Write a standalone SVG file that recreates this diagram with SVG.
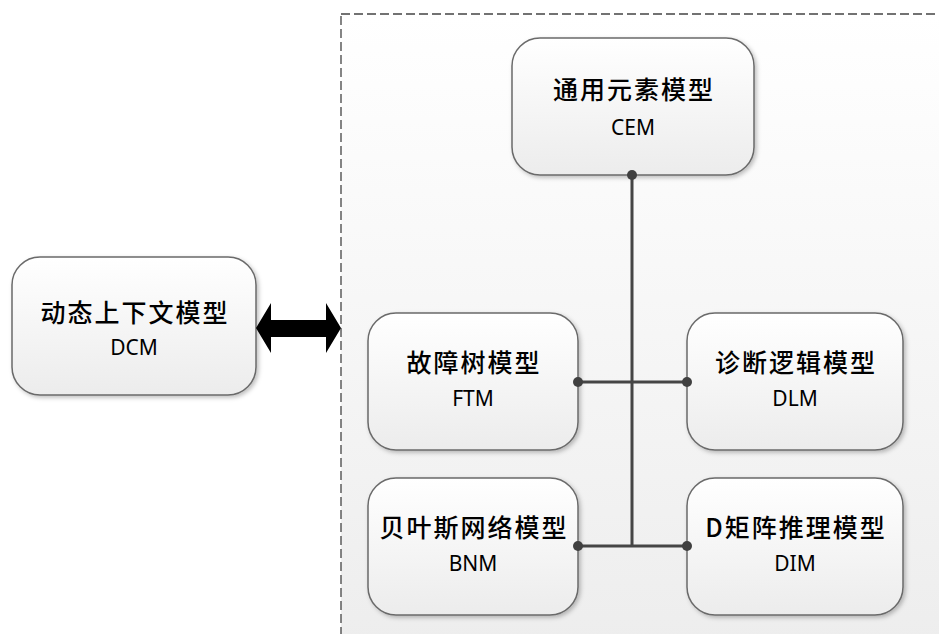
<svg xmlns="http://www.w3.org/2000/svg" width="939" height="634" viewBox="0 0 939 634">
<style>
.box{fill:url(#boxg);stroke:#6a6a6a;stroke-width:1.5;filter:url(#sh)}
.zh{font-family:"Noto Sans CJK SC","Noto Sans",sans-serif;font-size:25px;font-weight:500;fill:#000;text-anchor:middle;letter-spacing:2px}
.en{font-family:"Noto Sans","Liberation Sans",sans-serif;font-size:21px;fill:#000;text-anchor:middle}
.ln{stroke:#454545;stroke-width:3;fill:none}
.dot{fill:#404040}
</style>
<defs>
<linearGradient id="bg" x1="0" y1="0" x2="0" y2="1">
<stop offset="0" stop-color="#ffffff"/>
<stop offset="1" stop-color="#ededed"/>
</linearGradient>
<linearGradient id="boxg" x1="0" y1="0" x2="0" y2="1">
<stop offset="0" stop-color="#ffffff"/>
<stop offset="1" stop-color="#ececec"/>
</linearGradient>
<filter id="sh" x="-10%" y="-10%" width="125%" height="125%">
<feDropShadow dx="2" dy="2" stdDeviation="2" flood-color="#000" flood-opacity="0.25"/>
</filter>
</defs>
<rect x="0" y="0" width="939" height="634" fill="#ffffff"/>
<rect id="container" x="341" y="14" width="620" height="640" fill="url(#bg)" stroke="#444" stroke-width="1.3" stroke-dasharray="9,4"/>
<g id="DCM">
<rect class="box" x="12" y="257" width="244" height="138" rx="28"/>
<text class="zh" x="135" y="322">动态上下文模型</text>
<text class="en" x="134" y="355">DCM</text>
</g>
<g id="CEM">
<rect class="box" x="512" y="38" width="242" height="137" rx="28"/>
<text class="zh" x="634" y="99">通用元素模型</text>
<text class="en" x="633" y="135">CEM</text>
</g>
<g id="FTM">
<rect class="box" x="368" y="313" width="210" height="137" rx="28"/>
<text class="zh" x="474" y="372">故障树模型</text>
<text class="en" x="473" y="406">FTM</text>
</g>
<g id="DLM">
<rect class="box" x="687" y="313" width="216" height="137" rx="28"/>
<text class="zh" x="796" y="372">诊断逻辑模型</text>
<text class="en" x="795" y="406">DLM</text>
</g>
<g id="BNM">
<rect class="box" x="368" y="478" width="210" height="137" rx="28"/>
<text class="zh" x="474" y="537">贝叶斯网络模型</text>
<text class="en" x="473" y="571">BNM</text>
</g>
<g id="DIM">
<rect class="box" x="687" y="478" width="216" height="137" rx="28"/>
<text class="zh" x="796" y="537">D矩阵推理模型</text>
<text class="en" x="795" y="571">DIM</text>
</g>
<g id="connectors">
<path class="ln" d="M632 175 V546"/>
<path class="ln" d="M578 382 H687"/>
<path class="ln" d="M578 546 H687"/>
<circle class="dot" cx="632" cy="175" r="5"/>
<circle class="dot" cx="578" cy="382" r="5"/>
<circle class="dot" cx="687" cy="382" r="5"/>
<circle class="dot" cx="578" cy="546" r="5"/>
<circle class="dot" cx="687" cy="546" r="5"/>
<polygon id="arrow" points="256,328 271,303 271,320 326,320 326,303 341,328 326,353 326,337 271,337 271,353" fill="#000"/>
</g>
</svg>
